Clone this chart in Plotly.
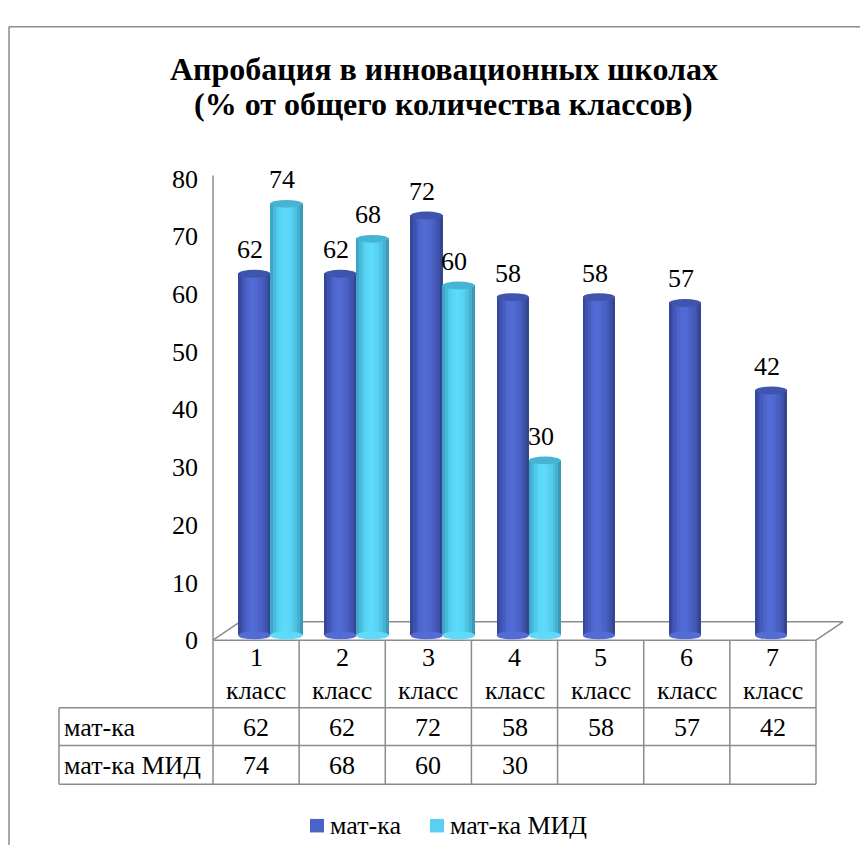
import plotly.graph_objects as go

VIEW = 868
PAGE_OFF = 8                      # default body margin of the html page
W = H = VIEW - 2 * PAGE_OFF       # figure fits the window without scrolling

categories = ["1", "2", "3", "4", "5", "6", "7"]
cat_word = "класс"
series_names = ["мат-ка", "мат-ка МИД"]
mat = [62, 62, 72, 58, 58, 57, 42]
mat_mid = [74, 68, 60, 30, None, None, None]
y_ticks = [0, 10, 20, 30, 40, 50, 60, 70, 80]
title_lines = ["Апробация в инновационных школах", "(% от общего количества классов)"]

FONT = "Liberation Serif"

def px(x):
    return (x - PAGE_OFF) / W

def py(y):
    return 1 - (y - PAGE_OFF) / H

# plot geometry (screen pixels)
X0, X1 = 213, 816          # front floor edge / table columns
Y0, Y80 = 648, 170         # tick label positions (front edge)
DEPTH_X, DEPTH_Y = 27, 19  # 3D floor depth
bar_zero_px, bar80_px = 643, 160   # bars stand slightly behind front edge
per = (bar_zero_px - bar80_px) / 80
y_lo = -(Y0 - bar_zero_px) / per
y_hi = (bar_zero_px - Y80) / per
front_per = (Y0 - Y80) / 80
tick_pos = [(bar_zero_px - (Y0 - t * front_per)) / per for t in y_ticks]

bar_w = 0.372
offsets = [-0.02, 0.352]
n_sl = 12
shades = [
    ["#34479A", "#3D52AC", "#4659BE", "#4D64CC", "#5169D3", "#536BD5",
     "#5169D2", "#4D64CB", "#4960C4", "#4559B8", "#3E51A8", "#33468F"],
    ["#3FA6C6", "#48B9DA", "#51C8E8", "#57D2F2", "#5BD8F8", "#5EDBFA",
     "#5CD9F8", "#58D3F3", "#53CBEB", "#4EC0E0", "#45B0D0", "#3A9AB8"],
]
cap_colors = ["#3F54AC", "#47B4D4"]
legend_colors = ["#4A63C9", "#5BCFF2"]

fig = go.Figure()
data_series = [mat, mat_mid]
sw = bar_w / n_sl
for s, vals in enumerate(data_series):
    xs_center = [i + offsets[s] for i in range(len(categories))]
    for k in range(n_sl):
        xk = [c - bar_w / 2 + (k + 0.5) * sw for c in xs_center]
        fig.add_trace(go.Bar(
            x=xk, y=vals, width=[sw * 1.15] * len(xk),
            marker=dict(color=shades[s][k], line=dict(width=0)),
            showlegend=False, hoverinfo="skip", name=series_names[s],
        ))

shapes = []
annotations = []
cap_h = 1.35
for s, vals in enumerate(data_series):
    for i, v in enumerate(vals):
        if v is None:
            continue
        c = i + offsets[s]
        shapes.append(dict(type="circle", xref="x", yref="y",
                           x0=c - bar_w / 2, x1=c + bar_w / 2,
                           y0=-cap_h / 2, y1=cap_h / 2,
                           fillcolor=shades[s][5], line=dict(width=0), layer="above"))
        shapes.append(dict(type="circle", xref="x", yref="y",
                           x0=c - bar_w / 2, x1=c + bar_w / 2,
                           y0=v - cap_h / 2, y1=v + cap_h / 2,
                           fillcolor=cap_colors[s], line=dict(width=0), layer="above"))
        annotations.append(dict(x=c - 0.05, y=v, xref="x", yref="y", text=str(v),
                                showarrow=False, yanchor="middle", yshift=24,
                                font=dict(family=FONT, size=26, color="#000")))

grey = "#8C8C8C"
def line(x0, y0, x1, y1, layer="below", w=1.5):
    shapes.append(dict(type="line", xref="paper", yref="paper",
                       x0=px(x0), y0=py(y0), x1=px(x1), y1=py(y1),
                       line=dict(color=grey, width=w), layer=layer))

# outer border: only top and left edges are inside the window
line(9, 13, VIEW - PAGE_OFF, 13)
line(9, 13, 9, VIEW - PAGE_OFF)
# walls / floor
line(X0, 167, X0, Y0)
line(X0, Y0, X1, Y0)
line(X0 + DEPTH_X, Y0 - DEPTH_Y, X1 + DEPTH_X, Y0 - DEPTH_Y)
line(X0, Y0, X0 + DEPTH_X, Y0 - DEPTH_Y)
line(X1, Y0, X1 + DEPTH_X, Y0 - DEPTH_Y)

# data table
ncol = len(categories)
colw = (X1 - X0) / ncol
LBL_X = 59
ROW_Y = [718, 757, 797]
for yy in ROW_Y:
    line(LBL_X, yy, X1, yy, layer="above")
line(LBL_X, ROW_Y[0], LBL_X, ROW_Y[-1], layer="above")
for k in range(ncol + 1):
    line(X0 + k * colw, Y0, X0 + k * colw, ROW_Y[-1], layer="above")

def txt(x, y, t, anchor="center", size=26, bold=False):
    annotations.append(dict(x=px(x), y=py(y), xref="paper", yref="paper",
                            text=("<b>%s</b>" % t) if bold else t, showarrow=False,
                            xanchor=anchor, yanchor="middle",
                            font=dict(family=FONT, size=size, color="#000")))

for i, c in enumerate(categories):
    cx = X0 + (i + 0.5) * colw
    txt(cx, 666, c)
    txt(cx, 700, cat_word)
    txt(cx, 738, str(mat[i]))
    if mat_mid[i] is not None:
        txt(cx, 778, str(mat_mid[i]))
txt(LBL_X + 3, 738, series_names[0], anchor="left")
txt(LBL_X + 3, 778, series_names[1], anchor="left")

# title
txt(444, 57, title_lines[0], size=32, bold=True)
txt(444, 93, title_lines[1], size=32, bold=True)

# legend (manual)
leg_x = [310, 430]
for s in range(2):
    shapes.append(dict(type="rect", xref="paper", yref="paper",
                       x0=px(leg_x[s]), x1=px(leg_x[s] + 14),
                       y0=py(847), y1=py(833),
                       fillcolor=legend_colors[s], line=dict(width=0)))
    txt(leg_x[s] + 18, 840, series_names[s], anchor="left")

fig.update_layout(
    width=W, height=H,
    margin=dict(l=0, r=0, t=0, b=0),
    paper_bgcolor="white", plot_bgcolor="rgba(0,0,0,0)",
    barmode="overlay", bargap=0,
    xaxis=dict(domain=[px(X0), px(X1)], range=[-0.5, ncol - 0.5],
               visible=False, fixedrange=True),
    yaxis=dict(domain=[py(Y0), py(Y80)], range=[y_lo, y_hi],
               tickvals=tick_pos, ticktext=[str(t) for t in y_ticks],
               showgrid=False, zeroline=False, showline=False, ticks="",
               ticklabelstandoff=14, fixedrange=True,
               tickfont=dict(family=FONT, size=26, color="#000")),
    shapes=shapes, annotations=annotations,
    showlegend=False,
)

fig.write_html("out.html")
